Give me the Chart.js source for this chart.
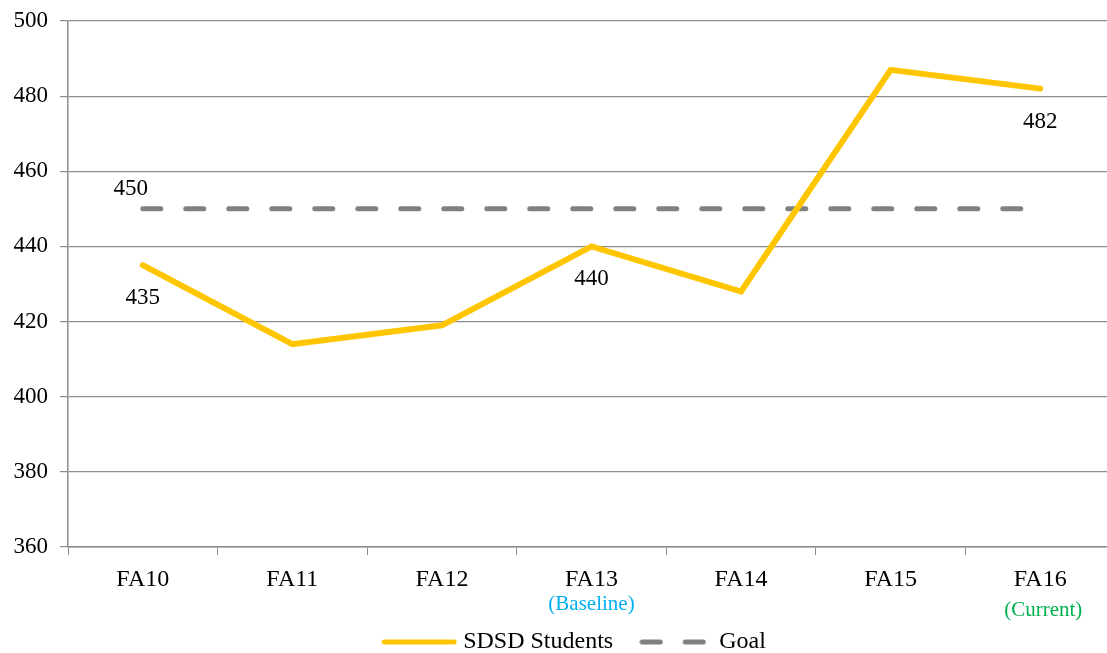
<!DOCTYPE html>
<html>
<head>
<meta charset="utf-8">
<script src="https://cdn.jsdelivr.net/npm/chart.js@4.4.1/dist/chart.umd.min.js"></script>
<style>
  html, body { margin: 0; padding: 0; overflow: hidden; background: #fff; }
  #wrap { width: 1115px; height: 653px; }
</style>
</head>
<body>
<div id="wrap"><canvas id="chart"></canvas></div>
<script>
// ---- data ----
var years = ['FA10', 'FA11', 'FA12', 'FA13', 'FA14', 'FA15', 'FA16'];
var students = [435, 414, 419, 440, 428, 487, 482];
var goal = [450, 450, 450, 450, 450, 450, 450];
var subLabels = ['', '', '', '(Baseline)', '', '', '(Current)'];
var subColors = ['', '', '', '#00b0f0', '', '', '#00b050'];
// which points get a value label, and where (above / below)
var studentLabels = ['below', '', '', 'below', '', '', 'below'];
var goalLabels = ['above', '', '', '', '', '', ''];

var serif = '"Liberation Serif", "Times New Roman", serif';
var gridGray = '#8c8c8c';
var yellow = '#ffc600';
var gray = '#808080';

// small canvases used as legend samples
function sample(w, color, dash) {
  var c = document.createElement('canvas');
  c.width = w; c.height = 8;
  var g = c.getContext('2d');
  g.strokeStyle = color;
  g.lineWidth = 5;
  g.lineCap = 'round';
  g.setLineDash(dash);
  g.beginPath();
  g.moveTo(3, 4);
  g.lineTo(w - 3, 4);
  g.stroke();
  return c;
}
var legendSamples = [sample(76, yellow, []), sample(72, gray, [18, 25])];

// ---- value labels + sub labels under the x ticks ----
var extras = {
  id: 'extras',
  afterDatasetsDraw: function (chart) {
    var ctx = chart.ctx;
    ctx.save();
    ctx.font = '23px ' + serif;
    ctx.fillStyle = '#000';
    ctx.textAlign = 'center';
    ctx.textBaseline = 'middle';
    var m0 = chart.getDatasetMeta(0).data;
    for (var i = 0; i < m0.length; i++) {
      if (studentLabels[i] == 'below') ctx.fillText(students[i], m0[i].x, m0[i].y + 33);
    }
    var m1 = chart.getDatasetMeta(1).data;
    for (var j = 0; j < m1.length; j++) {
      if (goalLabels[j] == 'above') ctx.fillText(goal[j], m1[j].x - 12, m1[j].y - 20);
    }
    // sub labels
    var xs = chart.scales.x;
    ctx.font = '21px ' + serif;
    for (var k = 0; k < subLabels.length; k++) {
      if (!subLabels[k]) continue;
      ctx.fillStyle = subColors[k];
      var yy = k == 6 ? 610 : 604;
      ctx.fillText(subLabels[k], xs.getPixelForValue(k) + (k == 6 ? 3 : 0), yy);
    }
    ctx.restore();
  },
  afterLayout: function (chart) {
    // legend sits a bit right of centre and lower in the original
    chart.legend.left += 19;
    chart.legend.right += 19;
    chart.legend.top += 11;
    chart.legend.bottom += 11;
  }
};

new Chart(document.getElementById('chart'), {
  type: 'line',
  data: {
    labels: years,
    datasets: [
      {
        label: 'SDSD Students',
        data: students,
        borderColor: yellow,
        backgroundColor: yellow,
        borderWidth: 6,
        pointRadius: 0,
        tension: 0,
        borderCapStyle: 'round',
        borderJoinStyle: 'miter'
      },
      {
        label: 'Goal',
        data: goal,
        borderColor: gray,
        backgroundColor: gray,
        borderWidth: 5,
        borderDash: [18, 25],
        borderCapStyle: 'round',
        pointRadius: 0
      }
    ]
  },
  options: {
    responsive: true,
    maintainAspectRatio: false,
    animation: false,
    layout: { padding: { top: 21, right: 0, bottom: 0, left: 0 } },
    plugins: {
      tooltip: { enabled: false },
      legend: {
        position: 'bottom',
        labels: {
          usePointStyle: true,
          pointStyleWidth: 64,
          padding: 30,
          color: '#000',
          font: { family: serif, size: 24 },
          generateLabels: function (chart) {
            var items = Chart.defaults.plugins.legend.labels.generateLabels(chart);
            items.forEach(function (it, i) {
              it.pointStyle = legendSamples[i];
            });
            return items;
          }
        }
      }
    },
    scales: {
      x: {
        offset: true,
        grid: { display: true, drawOnChartArea: false, drawTicks: true, tickLength: 8, color: gridGray, offset: true },
        border: { color: gridGray, width: 1.5 },
        ticks: { color: '#000', font: { family: serif, size: 24 }, padding: 10 },
        afterFit: function (s) { s.height = 42; }
      },
      y: {
        min: 360,
        max: 500,
        ticks: { stepSize: 20, color: '#000', font: { family: serif, size: 23 }, padding: 12 },
        grid: { color: gridGray, lineWidth: 1.2, tickLength: 8 },
        border: { color: gridGray, width: 1.5 },
        afterFit: function (s) { s.width = 68; s.paddingTop = 0; }
      }
    }
  },
  plugins: [extras]
});
</script>
</body>
</html>
